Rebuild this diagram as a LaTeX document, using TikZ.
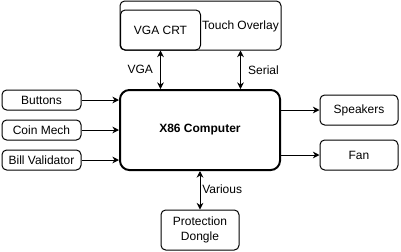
\documentclass[tikz,border=0pt]{standalone}
\usepackage{fontspec}
\setmainfont{Liberation Sans}
\usetikzlibrary{arrows.meta}
\tikzset{
  box/.style={draw,rounded corners=3.5pt,inner sep=0pt,line width=0.75pt,align=center},
  link/.style={line width=0.75pt,-{Stealth[length=5pt,width=5pt]}},
  both/.style={line width=0.75pt,{Stealth[length=5pt,width=5pt]}-{Stealth[length=5pt,width=5pt]}},
}
\begin{document}
\begin{tikzpicture}[x=0.75pt,y=-0.75pt,font=\fontsize{9}{11}\selectfont]
  \useasboundingbox (0,0) rectangle (401,251);
  % display stack on top
  \node[box,minimum width=120.75pt,minimum height=36.75pt] (overlay) at (200.5,25.5) {};
  \node (overlaytxt) at (240.5,26) {Touch Overlay};
  \node[box,minimum width=60pt,minimum height=30pt] (crt) at (160.5,30) {VGA CRT};
  % main computer
  \node[box,line width=1.5pt,rounded corners=7pt,minimum width=120pt,minimum height=60pt,font=\fontsize{9}{11}\selectfont\bfseries] (cpu) at (200,130) {X86 Computer};
  % inputs on the left
  \node[box,minimum width=59.25pt,minimum height=15pt] (buttons) at (41.5,100) {Buttons};
  \node[box,minimum width=59.25pt,minimum height=15pt] (coin) at (41.5,130) {Coin Mech};
  \node[box,minimum width=59.25pt,minimum height=15pt] (bill) at (41.5,160) {Bill Validator};
  % outputs on the right
  \node[box,minimum width=58.5pt,minimum height=22.5pt] (speakers) at (359,110) {Speakers};
  \node[box,minimum width=58.5pt,minimum height=22.5pt] (fan) at (359,155) {Fan};
  % dongle below
  \node[box,minimum width=58.5pt,minimum height=30pt] (dongle) at (200,230) {Protection\\Dongle};
  % connectors
  \draw[link] (buttons.east) -- (buttons.east -| cpu.west);
  \draw[link] (coin.east) -- (coin.east -| cpu.west);
  \draw[link] (bill.east) -- (bill.east -| cpu.west);
  \draw[link] (speakers.west -| cpu.east) -- (speakers.west);
  \draw[link] (fan.west -| cpu.east) -- (fan.west);
  \draw[both] (crt.south) -- (crt.south |- cpu.north) node[pos=0.5,left=2pt] (vga) {VGA};
  \draw[both] (overlay.south -| overlaytxt) -- (cpu.north -| overlaytxt) node[pos=0.5,right=2pt] (serial) {Serial};
  \draw[both] (cpu.south) -- (dongle.north) node[pos=0.48,right=-2pt] (various) {Various};
\end{tikzpicture}
\end{document}
